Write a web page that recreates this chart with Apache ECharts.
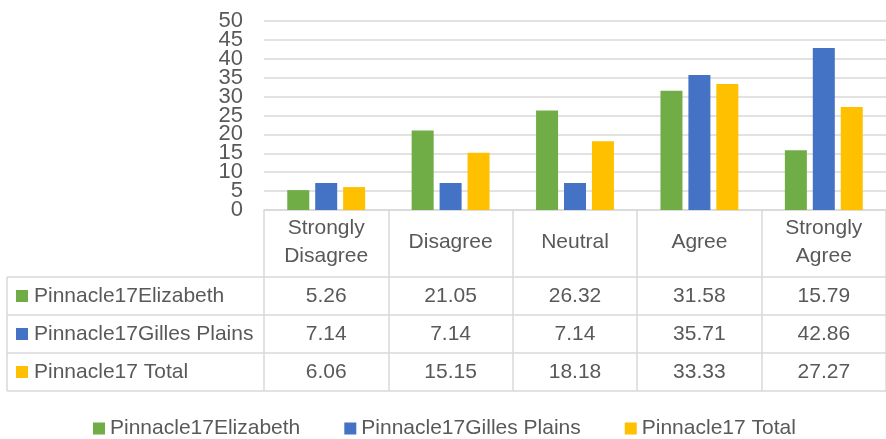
<!DOCTYPE html>
<html>
<head>
<meta charset="utf-8">
<script src="https://cdn.jsdelivr.net/npm/echarts@6/dist/echarts.min.js"></script>
<style>
html,body{margin:0;padding:0;background:#fff;}
#chart{width:886px;height:439px;}
</style>
</head>
<body>
<div id="chart"></div>
<script>
// ---- data ----
const categories = ['Strongly\nDisagree', 'Disagree', 'Neutral', 'Agree', 'Strongly\nAgree'];
const seriesNames = ['Pinnacle17Elizabeth', 'Pinnacle17Gilles Plains', 'Pinnacle17 Total'];
const elizabeth = [5.26, 21.05, 26.32, 31.58, 15.79];
const gillesPlains = [7.14, 7.14, 7.14, 35.71, 42.86];
const total = [6.06, 15.15, 18.18, 33.33, 27.27];
const yTickLabels = ['0', '5', '10', '15', '20', '25', '30', '35', '40', '45', '50'];
const yMin = 0, yMax = 50, yStep = 5;

// ---- style ----
const colors = ['#70AD47', '#4472C4', '#FFC000'];
const textColor = '#595959';
const lineColor = '#d9d9d9';
const font = 'Liberation Sans, Arial, sans-serif';
const fs = 21;

const rows = [elizabeth, gillesPlains, total];

const gridLeft = 264, gridTop = 21, gridBottomY = 210;
const rowH = 38;
const headerBottom = 277;
const tableLeft = 7, tableRight = 886;

const chart = echarts.init(document.getElementById('chart'), null, {renderer: 'canvas'});

const xAxes = [{
  type: 'category',
  data: categories,
  position: 'bottom',
  axisLine: {show: true, lineStyle: {color: lineColor, width: 1.5}},
  axisTick: {show: true, length: headerBottom - gridBottomY + rowH * 3, lineStyle: {color: lineColor, width: 1.5}},
  axisLabel: {interval: 0, margin: 32, verticalAlign: 'middle', color: textColor, fontFamily: font, fontSize: fs, lineHeight: 28}
}];
rows.forEach((r, i) => {
  xAxes.push({
    type: 'category',
    data: categories,
    position: 'bottom',
    axisLine: {show: false},
    axisTick: {show: false},
    splitLine: {show: false},
    axisLabel: {
      interval: 0,
      margin: headerBottom - gridBottomY + rowH * i + rowH / 2,
      verticalAlign: 'middle',
      color: textColor, fontFamily: font, fontSize: fs,
      formatter: (v, idx) => r[idx].toFixed(2)
    }
  });
});

const graphics = [];
// horizontal table lines
for (let i = 0; i <= 3; i++) {
  const y = headerBottom + rowH * i;
  graphics.push({type: 'line', shape: {x1: tableLeft, y1: y, x2: tableRight, y2: y}, style: {stroke: lineColor, lineWidth: 1.5}, silent: true});
}
graphics.push({type: 'line', shape: {x1: tableLeft, y1: headerBottom, x2: tableLeft, y2: headerBottom + rowH * 3}, style: {stroke: lineColor, lineWidth: 1.5}, silent: true});
// row labels
seriesNames.forEach((name, i) => {
  const cy = headerBottom + rowH * i + rowH / 2;
  graphics.push({type: 'rect', shape: {x: 16, y: cy - 6, width: 12, height: 12}, style: {fill: colors[i]}, silent: true});
  graphics.push({type: 'text', x: 34, y: cy, style: {text: name, fill: textColor, font: fs + 'px ' + font, textVerticalAlign: 'middle', textAlign: 'left'}, silent: true});
});

const option = {
  animation: false,
  color: colors,
  grid: {left: gridLeft, right: 0, top: gridTop, bottom: 439 - gridBottomY, containLabel: false},
  xAxis: xAxes,
  yAxis: [{
    type: 'value', min: yMin, max: yMax, interval: yStep,
    axisLine: {show: false}, axisTick: {show: false},
    splitLine: {lineStyle: {color: lineColor, width: 1.5}},
    axisLabel: {show: false}
  }, {
    type: 'category', data: yTickLabels, boundaryGap: false, position: 'left',
    axisLine: {show: false}, axisTick: {show: false}, splitLine: {show: false},
    axisLabel: {interval: 0, color: textColor, fontFamily: font, fontSize: 22, margin: 21}
  }],
  legend: {
    data: seriesNames,
    left: 88, top: 413,
    icon: 'rect', itemWidth: 12, itemHeight: 12, itemGap: 44,
    textStyle: {color: textColor, fontFamily: font, fontSize: fs}
  },
  series: [
    {name: seriesNames[0], type: 'bar', data: elizabeth, barWidth: 22, barGap: '27%'},
    {name: seriesNames[1], type: 'bar', data: gillesPlains, barWidth: 22, barGap: '27%'},
    {name: seriesNames[2], type: 'bar', data: total, barWidth: 22, barGap: '27%'}
  ],
  graphic: graphics
};
chart.setOption(option);
</script>
</body>
</html>
